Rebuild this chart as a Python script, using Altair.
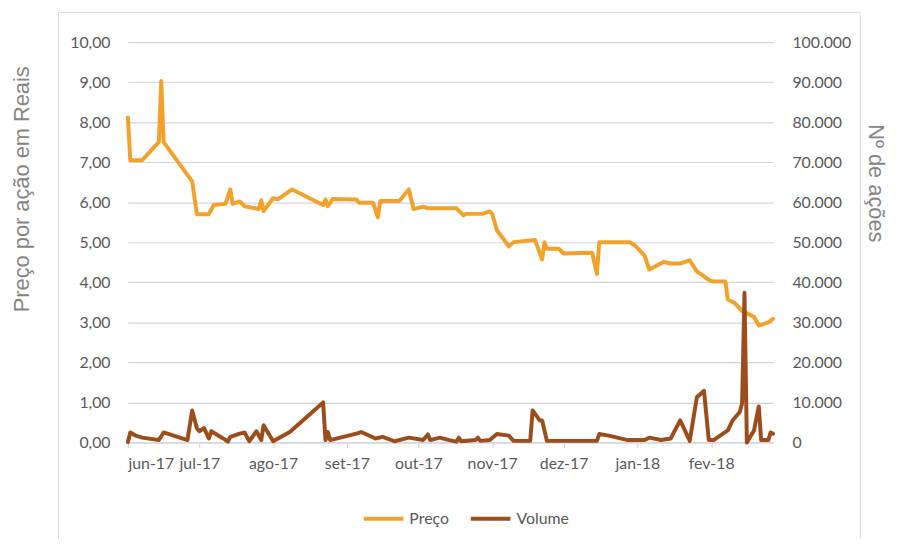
import altair as alt
import pandas as pd

# ---- data ----
price_dates = ["2017-06-01","2017-06-02","2017-06-07","2017-06-14","2017-06-15","2017-06-16","2017-06-28","2017-06-30",
               "2017-07-05","2017-07-07","2017-07-12","2017-07-14","2017-07-15","2017-07-18","2017-07-20","2017-07-26",
               "2017-07-27","2017-07-28","2017-08-01","2017-08-03","2017-08-09","2017-08-22","2017-08-23","2017-08-24",
               "2017-08-26","2017-09-05","2017-09-06","2017-09-12","2017-09-14","2017-09-15","2017-09-23","2017-09-27",
               "2017-09-29","2017-10-03","2017-10-05","2017-10-17","2017-10-20","2017-10-21","2017-10-28","2017-10-31",
               "2017-11-01","2017-11-03","2017-11-08","2017-11-10","2017-11-19","2017-11-22","2017-11-23","2017-11-24",
               "2017-11-29","2017-12-01","2017-12-13","2017-12-15","2017-12-16","2017-12-29","2017-12-31","2018-01-04",
               "2018-01-06","2018-01-12","2018-01-15","2018-01-19","2018-01-23","2018-01-26","2018-01-28","2018-01-31",
               "2018-02-02","2018-02-07","2018-02-08","2018-02-11","2018-02-14","2018-02-19","2018-02-21","2018-02-25",
               "2018-02-27"]
price_values = [8.12,7.05,7.05,7.5,9.03,7.5,6.52,5.7,
                5.7,5.93,5.96,6.32,5.96,6.02,5.9,5.83,
                6.05,5.78,6.1,6.07,6.32,5.93,6.07,5.9,
                6.08,6.07,5.99,5.99,5.62,6.03,6.03,6.32,
                5.83,5.89,5.85,5.85,5.67,5.71,5.71,5.77,
                5.71,5.3,4.9,5.0,5.06,4.57,5.0,4.84,
                4.84,4.72,4.74,4.21,5.0,5.0,4.92,4.67,
                4.32,4.51,4.47,4.47,4.55,4.27,4.19,4.06,
                4.02,4.02,3.57,3.48,3.28,3.14,2.92,3.0,
                3.09]

volume_dates = ["2017-06-01","2017-06-02","2017-06-04","2017-06-07","2017-06-14","2017-06-16","2017-06-26","2017-06-28",
                "2017-06-30","2017-07-01","2017-07-03","2017-07-05","2017-07-06","2017-07-11","2017-07-13","2017-07-14",
                "2017-07-18","2017-07-20","2017-07-22","2017-07-25","2017-07-27","2017-07-28","2017-08-01","2017-08-08",
                "2017-08-22","2017-08-23","2017-08-24","2017-08-25","2017-09-05","2017-09-07","2017-09-13","2017-09-16",
                "2017-09-21","2017-09-27","2017-10-03","2017-10-05","2017-10-06","2017-10-10","2017-10-14","2017-10-17",
                "2017-10-18","2017-10-19","2017-10-25","2017-10-26","2017-10-27","2017-10-31","2017-11-03","2017-11-08",
                "2017-11-10","2017-11-17","2017-11-18","2017-11-21","2017-11-22","2017-11-24","2017-12-15","2017-12-16",
                "2017-12-20","2017-12-28","2018-01-04","2018-01-06","2018-01-11","2018-01-15","2018-01-19","2018-01-23",
                "2018-01-26","2018-01-29","2018-01-31","2018-02-02","2018-02-08","2018-02-10","2018-02-13","2018-02-14",
                "2018-02-15","2018-02-16","2018-02-19","2018-02-21","2018-02-22","2018-02-25","2018-02-26","2018-02-27"]
volume_values = [100,2500,1800,1200,600,2500,600,8000,
                 3500,2800,3600,1000,2800,1000,200,1400,
                 2200,2500,300,2800,600,4300,300,2600,
                 10000,600,2600,600,2200,2600,1000,1400,
                 300,1200,600,2000,600,1200,600,200,
                 1200,300,600,1200,400,600,2100,1700,
                 400,400,8000,5500,5500,400,400,2100,
                 1700,600,600,1200,600,1000,5500,400,
                 11300,12900,600,600,3000,5500,7600,9800,
                 37400,0,3000,9000,600,600,2500,2200]

series_names = ["Preço", "Volume"]
series_colors = ["#F2A22A", "#9B4E1C"]
price_ticks = [0, 1, 2, 3, 4, 5, 6, 7, 8, 9, 10]
volume_ticks = [0, 10000, 20000, 30000, 40000, 50000, 60000, 70000, 80000, 90000, 100000]
month_names = ["jan", "fev", "mar", "abr", "mai", "jun", "jul", "ago", "set", "out", "nov", "dez"]

price_df = pd.DataFrame({"date": price_dates, "preco": price_values, "serie": series_names[0]})
volume_df = pd.DataFrame({"date": volume_dates, "volume": volume_values, "serie": series_names[1]})

LABEL_FONT = "Lato"
LABEL_COLOR = "#595959"
TITLE_COLOR = "#858585"
GRID_COLOR = "#d3d3e0"

month_js = "[" + ",".join("'" + m + "'" for m in month_names) + "]"

x_enc = alt.X(
    "date:T",
    scale=alt.Scale(type="utc"),
    axis=alt.Axis(
        title=None,
        tickCount={"interval": "month", "step": 1},
        labelExpr=month_js + "[utcmonth(datum.value)] + '-' + utcFormat(datum.value, '%y')",
        labelFont=LABEL_FONT, labelFontSize=16, labelColor=LABEL_COLOR,
        tickSize=5, tickColor="#cfcfcf", domainColor=GRID_COLOR, domainWidth=1.2,
        labelPadding=8, grid=False,
    ),
)

color_enc = alt.Color(
    "serie:N",
    scale=alt.Scale(domain=series_names, range=series_colors),
    legend=alt.Legend(
        title=None, orient="none", legendX=236, legendY=459, direction="horizontal",
        symbolType="stroke", symbolStrokeWidth=4, symbolSize=1600,
        labelFont=LABEL_FONT, labelFontSize=16, labelColor=LABEL_COLOR,
        columnPadding=14, labelOffset=4, padding=0,
    ),
)

price_line = alt.Chart(price_df).mark_line(strokeWidth=4, strokeJoin="round", strokeCap="round").encode(
    x=x_enc,
    y=alt.Y(
        "preco:Q",
        scale=alt.Scale(domain=[0, 10], nice=False),
        axis=alt.Axis(
            values=price_ticks,
            labelExpr="replace(format(datum.value, '.2f'), '.', ',')",
            title="Preço por ação em Reais",
            titleFont="Liberation Sans", titleFontSize=22, titleFontWeight="normal", titleColor=TITLE_COLOR,
            titleX=-107, titleY=148, titleAngle=270, titleAlign="center", titleBaseline="middle",
            labelFont=LABEL_FONT, labelFontSize=16, labelColor=LABEL_COLOR,
            labelPadding=18, ticks=False, tickSize=0, domain=False,
            grid=True, gridColor=GRID_COLOR, gridWidth=1.2,
        ),
    ),
    color=color_enc,
)

volume_line = alt.Chart(volume_df).mark_line(strokeWidth=4, strokeJoin="round", strokeCap="round").encode(
    x=x_enc,
    y=alt.Y(
        "volume:Q",
        scale=alt.Scale(domain=[0, 100000], nice=False),
        axis=alt.Axis(
            orient="right",
            values=volume_ticks,
            labelExpr="replace(format(datum.value, ','), ',', '.')",
            title="Nº de ações",
            titleFont="Liberation Sans", titleFontSize=22, titleFontWeight="normal", titleColor=TITLE_COLOR,
            titleX=103, titleY=142, titleAngle=90, titleAlign="center", titleBaseline="middle",
            labelFont=LABEL_FONT, labelFontSize=16, labelColor=LABEL_COLOR,
            labelPadding=19, ticks=False, tickSize=0, domain=False, grid=False,
        ),
    ),
    color=color_enc,
)

frame = alt.Chart(pd.DataFrame({"k": [0]})).mark_rect(fill=None, stroke="#d9d9d9", strokeWidth=1).encode(
    x=alt.value(-70), x2=alt.value(739), y=alt.value(-30), y2=alt.value(520)
)

chart = alt.layer(frame, price_line, volume_line).resolve_scale(y="independent").properties(
    width=651, height=404,
    autosize=alt.AutoSizeParams(type="none"),
    padding={"left": 121, "top": 32, "right": 117, "bottom": 95},
    background="white",
).configure_view(stroke=None)

chart.save("out.html", embed_options={"renderer": "svg", "actions": False})
